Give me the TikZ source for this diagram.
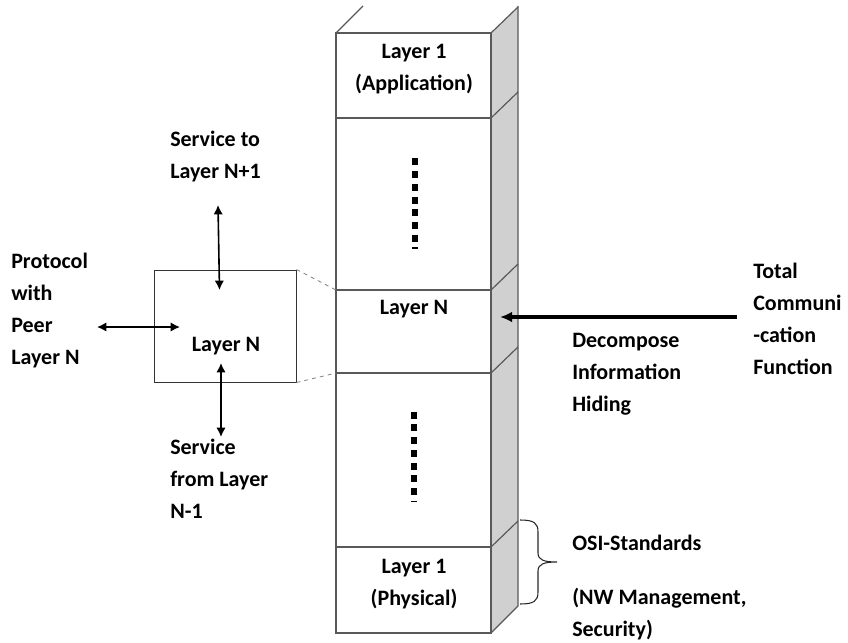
\documentclass[tikz,border=0pt]{standalone}
\usepackage{fontspec}
\setmainfont{Carlito}
\usetikzlibrary{arrows.meta}
\definecolor{edge}{HTML}{595959}
\definecolor{sideface}{HTML}{D0D0D0}
\begin{document}
\begin{tikzpicture}[x=0.75pt,y=-0.75pt,
  txt/.style={font=\bfseries\fontsize{16.5}{24}\selectfont, inner sep=0pt, align=left},
  ctxt/.style={txt, align=center},
  face/.style={draw=edge, line width=0.9pt},
  twoway/.style={{Latex[length=7pt,width=7pt]}-{Latex[length=7pt,width=7pt]}, line width=1.2pt},
  dots/.style={line width=5pt, dash pattern=on 5.25pt off 4.3pt},
  zoomline/.style={draw=gray, dashed, line width=0.6pt}
]
\useasboundingbox (0,0) rectangle (848,642);

% ---- layer stack: shaded side face ----
\fill[sideface] (491,33) -- (518,7) -- (518,606) -- (491,633) -- cycle;
\draw[face] (518,6) -- (518,606) -- (491,633);
\draw[face] (336,33) -- (363,6);
\draw[face] (491,33) -- (518,7);
\foreach \yy in {118,290,373,547}
  \draw[face] (491,\yy) -- (518,\yy-26);

% ---- layer stack: front face ----
\draw[face] (336,33) rectangle (491,633);
\foreach \yy in {118,290,373,547}
  \draw[face] (336,\yy) -- (491,\yy);

% ---- layer labels in the stack ----
\node[ctxt] (app)  at (414,69)  {Layer 1\\(Application)};
\node[ctxt] (layn) at (414,309) {Layer N};
\node[ctxt] (phy)  at (414,584) {Layer 1\\(Physical)};

% ---- elided layers ----
\draw[dots] (415,158.3) -- (415,249);
\draw[dots] (414,411.7) -- (414,501);

% ---- detail of layer N ----
\node[draw=black!80, line width=0.75pt, minimum width=106.5pt, minimum height=84pt, inner sep=0pt] (box) at (225,326) {};
\node[txt] (boxlbl) at (226,346) {Layer N};
\coordinate (stackNtop) at (336,290);
\coordinate (stackNbot) at (336,373);
\draw[zoomline] (box.north east) -- (stackNtop);
\draw[zoomline] (box.south east) -- (stackNbot);

% ---- service and protocol interfaces ----
\node[txt, anchor=west] (svcto)   at (170,157) {Service to\\Layer N+1};
\node[txt, anchor=west] (peer)    at (11,311)  {Protocol\\with\\Peer\\Layer N};
\node[txt, anchor=west] (svcfrom) at (170,479) {Service\\from Layer\\N-1};

\coordinate (upA) at (218,205);   \coordinate (upB) at (219.5,290);
\coordinate (dnA) at (221,363);   \coordinate (dnB) at (221,437);
\coordinate (lfA) at (97,327);    \coordinate (lfB) at (180,327);
\draw[twoway] (upA) -- (upB);
\draw[twoway] (dnA) -- (dnB);
\draw[twoway] (lfA) -- (lfB);

% ---- decomposition of the communication function ----
\node[txt, anchor=west] (total) at (753,319) {Total\\Communi\\-cation\\Function};
\node[txt, anchor=west] (decomp) at (572,374.5) {Decompose\\Information\\Hiding};
\coordinate (totalIn) at (737,317);
\coordinate (sideN) at (500,317);
\draw[line width=2.6pt, -{Latex[length=9pt,width=8pt]}] (totalIn) -- (sideN);

% ---- standards brace ----
\draw[line width=0.8pt, draw=black!85]
  (520,520) .. controls (534,520) and (538,523) .. (538,532)
  -- (538,553) .. controls (538,560) and (544,562) .. (557,562)
  .. controls (544,562) and (538,564) .. (538,571)
  -- (538,592) .. controls (538,601) and (534,604) .. (520,604);
\node[txt, anchor=west] (osi) at (572,587.5) {OSI-Standards\\[16pt](NW Management,\\Security)};
\end{tikzpicture}
\end{document}
